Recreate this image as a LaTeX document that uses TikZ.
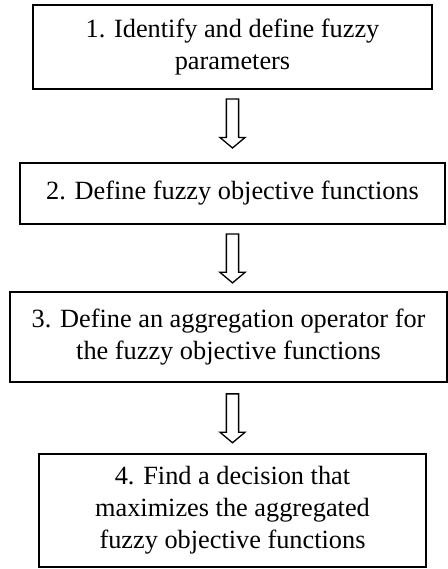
\documentclass[tikz,border=0pt]{standalone}
\usepackage{fontspec}
\setmainfont{Liberation Serif}
\usetikzlibrary{positioning,shapes.arrows}
\tikzset{
  stepbox/.style={draw,line width=0.9pt,align=center,inner sep=0pt,outer sep=0pt,
    font=\fontsize{12}{14.6}\selectfont},
  downarrow/.style={draw,line width=0.6pt,single arrow,shape border rotate=270,
    minimum height=22.3pt,inner xsep=2.5pt,inner ysep=0pt,outer sep=0pt,
    single arrow head extend=2.95pt,single arrow tip angle=100}
}
\begin{document}
\begin{tikzpicture}[x=0.456pt,y=-0.456pt]
  \useasboundingbox (0,0) rectangle (447,569);
  % steps
  \node[stepbox,minimum width=182pt,minimum height=38.3pt] (s1) at (232.5,47)
    {1. Identify and define fuzzy\\parameters};
  \node[downarrow,below=4.6pt of s1] (a1) {};
  \node[stepbox,minimum width=193.8pt,minimum height=27.8pt,below=6.8pt of a1] (s2)
    {2. Define fuzzy objective functions};
  \node[downarrow,below=4.6pt of s2] (a2) {};
  \node[stepbox,minimum width=199.3pt,minimum height=41pt,below=4.1pt of a2,xshift=-1.8pt] (s3)
    {3. Define an aggregation operator for\\the fuzzy objective functions};
  \node[downarrow,below=5.5pt of s3,xshift=1.8pt] (a3) {};
  \node[stepbox,minimum width=176.5pt,minimum height=51.5pt,below=5pt of a3] (s4)
    {4. Find a decision that\\maximizes the aggregated\\fuzzy objective functions};
\end{tikzpicture}
\end{document}
